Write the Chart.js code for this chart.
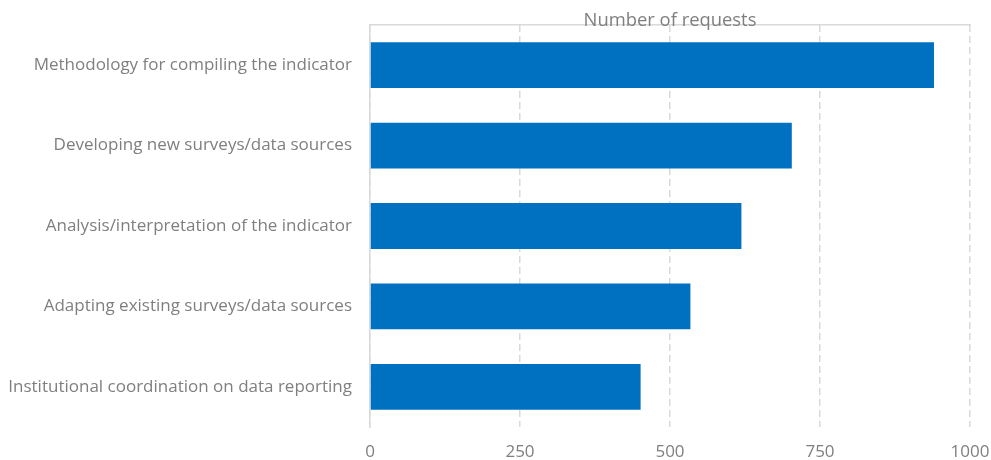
<!DOCTYPE html>
<html>
<head>
<meta charset="utf-8">
<script src="https://cdn.jsdelivr.net/npm/chart.js@4/dist/chart.umd.min.js"></script>
<style>
  html, body { margin: 0; padding: 0; background: #fff; }
  #wrap { width: 991px; height: 460px; }
</style>
</head>
<body>
<div id="wrap"><canvas id="chart" width="991" height="460"></canvas></div>
<script>
const categories = [
  "Methodology for compiling the indicator",
  "Developing new surveys/data sources",
  "Analysis/interpretation of the indicator",
  "Adapting existing surveys/data sources",
  "Institutional coordination on data reporting",
];
const requests = [940, 703, 619, 534, 451];
const xTicks = [0, 250, 500, 750, 1000];
const chartTitle = "Number of requests";

const textColor = "#7f7f7f";
const lineColor = "#d9d9d9";
const fontFamily = "'Open Sans', sans-serif";

// title sits on top of the plot border, like the original
const titlePlugin = {
  id: "overTitle",
  afterDraw(chart) {
    const { ctx, chartArea } = chart;
    ctx.save();
    ctx.font = "18.4px " + fontFamily;
    ctx.fillStyle = textColor;
    ctx.textAlign = "center";
    ctx.textBaseline = "middle";
    ctx.fillText(chartTitle, (chartArea.left + chartArea.right) / 2, chartArea.top - 4);
    ctx.restore();
  },
};

new Chart(document.getElementById("chart"), {
  type: "bar",
  data: {
    labels: categories,
    datasets: [
      {
        data: requests,
        backgroundColor: "#0070c0",
        borderWidth: 0,
        barPercentage: 0.57,
        categoryPercentage: 1,
      },
    ],
  },
  options: {
    indexAxis: "y",
    responsive: false,
    animation: false,
    layout: { padding: { top: 25, right: 0, left: 0, bottom: 0 } },
    plugins: { legend: { display: false }, tooltip: { enabled: false } },
    scales: {
      x: {
        min: 0,
        max: 1000,
        afterBuildTicks: (scale) => {
          scale.ticks = xTicks.map((value) => ({ value }));
        },
        afterFit: (scale) => {
          scale.height = 33;
          scale.paddingLeft = 0;
          scale.paddingRight = 21;
        },
        grid: { color: lineColor, lineWidth: 1.5, drawTicks: false },
        border: { display: false, dash: [7, 4] },
        ticks: {
          color: textColor,
          font: { family: fontFamily, size: 17 },
          padding: 15,
          callback: (value) => String(value),
        },
      },
      xTop: {
        type: "linear",
        position: "top",
        min: 0,
        max: 1000,
        grid: { display: false, drawTicks: false },
        ticks: { display: false },
        border: { display: true, color: lineColor, width: 1.5 },
        afterFit: (scale) => {
          scale.height = 0;
          scale.paddingLeft = 0;
          scale.paddingRight = 0;
        },
      },
      y: {
        grid: { display: false, drawTicks: false },
        border: { display: true, color: lineColor, width: 1.5 },
        ticks: { color: textColor, font: { family: fontFamily, size: 17 }, padding: 18 },
        afterFit: (scale) => {
          scale.width = 370;
          scale.paddingTop = 0;
          scale.paddingBottom = 0;
        },
      },
    },
  },
  plugins: [titlePlugin],
});
</script>
</body>
</html>
